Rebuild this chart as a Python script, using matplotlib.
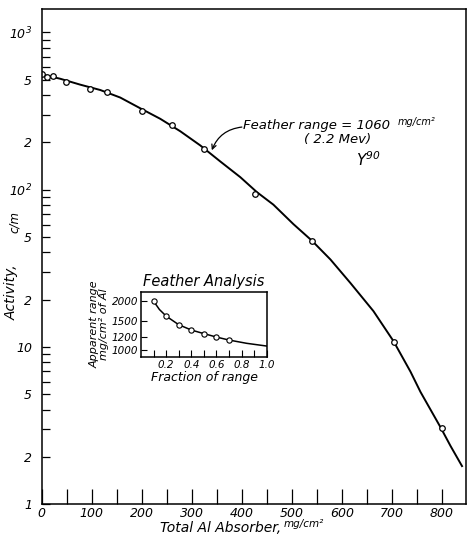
import numpy as np
import matplotlib
matplotlib.use("Agg")
import matplotlib.pyplot as plt
from matplotlib.ticker import FixedLocator, LogLocator, NullFormatter, NullLocator

plt.rcParams["mathtext.fontset"] = "custom"
plt.rcParams["mathtext.rm"] = "DejaVu Sans:italic"
plt.rcParams["mathtext.it"] = "DejaVu Sans:italic"

# absorption data: total Al absorber (mg/cm^2) vs activity (c/m)
absorber = [0, 10, 23, 49, 97, 130, 201, 261, 325, 427, 540, 705, 799]
activity = [545, 520, 525, 486, 437, 420, 315, 258, 182, 94, 47.4, 10.7, 3.05]

# hand-drawn curve through the points
curve_x = [0, 37, 77, 117, 157, 197, 237, 277, 317, 357, 397, 430, 463,
           503, 540, 577, 617, 663, 703, 737, 757, 797, 817, 840]
curve_y = [540, 507, 465, 430, 385, 329, 282, 235, 191, 151, 120, 96.5,
           80.3, 60.4, 47.4, 36, 25.5, 16.9, 10.9, 6.97, 5.18, 3.09, 2.35, 1.75]

# Feather analysis inset
fraction = [0.1, 0.2, 0.3, 0.4, 0.5, 0.6, 0.7]
apparent_range = [2000, 1618, 1432, 1328, 1262, 1202, 1152]
fcurve_x = [0.1, 0.146, 0.2, 0.3, 0.4, 0.5, 0.6, 0.7, 0.84, 1.0]
fcurve_y = [2000, 1778, 1618, 1432, 1328, 1262, 1202, 1152, 1100, 1058]

x_labels = ["0", "100", "200", "300", "400", "500", "600", "700", "800"]
y_ticks = [1, 2, 5, 10, 20, 50, 100, 200, 500, 1000]
y_labels = ["1", "2", "5", "10", "2", "5", "$10^2$", "2", "5", "$10^3$"]
inset_y_ticks = [1000, 1200, 1500, 2000]
inset_x_labels = ["0.2", "0.4", "0.6", "0.8", "1.0"]

hand = dict(family="DejaVu Sans", style="italic")
W, H = 467, 536


def px(x, y):
    # pixel position (from top-left) to figure fraction
    return x / W, 1 - y / H


fig = plt.figure(figsize=(W / 100, H / 100), dpi=100)
ax = fig.add_axes([0.0893, 0.0591, 0.9086, 0.9241])

ax.plot(curve_x, curve_y, color="black", linewidth=1.4)
ax.plot(absorber, activity, linestyle="none", marker="o", markersize=4,
        markerfacecolor="white", markeredgecolor="black", markeredgewidth=0.9)

ax.set_yscale("log")
ax.set_xlim(0, 848)
ax.set_ylim(1, 1407)

ax.set_xticks(np.arange(0, 801, 100))
ax.set_xticklabels(x_labels, fontsize=9, **hand)
ax.set_xticks(np.arange(50, 801, 100), minor=True)
ax.tick_params(axis="x", which="both", direction="in", length=11, width=0.9,
               top=False, pad=2)

ax.yaxis.set_major_locator(FixedLocator(y_ticks))
ax.yaxis.set_minor_locator(LogLocator(base=10, subs=np.arange(2, 10)))
ax.yaxis.set_minor_formatter(NullFormatter())
ax.set_yticklabels(y_labels, fontsize=9, **hand)
ax.tick_params(axis="y", which="both", direction="in", length=6, width=0.9,
               right=False, pad=7)

for s in ax.spines.values():
    s.set_linewidth(1.1)

# axis titles placed by hand, the margins are tight
fig.text(*px(160, 528), "Total Al Absorber,", fontsize=10, ha="left",
         va="center", **hand)
fig.text(*px(284, 524), "mg/cm²", fontsize=7.5, ha="left", va="center", **hand)
fig.text(*px(12, 292), "Activity,", fontsize=10, rotation=90, ha="center",
         va="center", **hand)
fig.text(*px(14, 222), "c/m", fontsize=8.5, rotation=90, ha="center",
         va="center", **hand)

fig.text(*px(243, 126), "Feather range = 1060", fontsize=9.5, ha="left",
         va="center", **hand)
fig.text(*px(398, 122), "mg/cm²", fontsize=7, ha="left", va="center", **hand)
fig.text(*px(338, 140), "( 2.2 Mev)", fontsize=9.5, ha="center",
         va="center", **hand)
fig.text(*px(356, 160), "Y$^{90}$", fontsize=11, ha="left", va="center",
         **hand)
ax.annotate("", xy=(340, 178), xytext=(400, 250),
            arrowprops=dict(arrowstyle="->", color="black", lw=0.9,
                            mutation_scale=8, shrinkA=0, shrinkB=0,
                            connectionstyle="arc3,rad=0.3"))

# inset: apparent range vs fraction of range
ins = fig.add_axes([0.302, 0.334, 0.2704, 0.1218])
ins.plot(fcurve_x, fcurve_y, color="black", linewidth=1.1)
ins.plot(fraction, apparent_range, linestyle="none", marker="o", markersize=3.8,
         markerfacecolor="white", markeredgecolor="black", markeredgewidth=0.8)
ins.set_yscale("log")
ins.set_xlim(0, 1.005)
ins.set_ylim(906, 2288)
ins.set_xticks(np.arange(0.2, 1.01, 0.2))
ins.set_xticklabels(inset_x_labels, fontsize=7.5, **hand)
ins.set_xticks(np.arange(0.1, 1.0, 0.2), minor=True)
ins.yaxis.set_major_locator(FixedLocator(inset_y_ticks))
ins.yaxis.set_minor_locator(NullLocator())
ins.set_yticklabels([str(v) for v in inset_y_ticks], fontsize=7.5, **hand)
ins.tick_params(which="both", direction="in", length=5, width=0.8, pad=2)
ins.tick_params(axis="y", length=4)
for s in ins.spines.values():
    s.set_linewidth(1.1)
ins.set_title("Feather Analysis", fontsize=10.5, pad=4, **hand)
ins.set_xlabel("Fraction of range", fontsize=9, labelpad=1, **hand)
ins.set_ylabel("Apparent range\nmg/cm² of Al", fontsize=8,
               labelpad=2, linespacing=0.95, **hand)

fig.savefig("out.png", dpi=100)
